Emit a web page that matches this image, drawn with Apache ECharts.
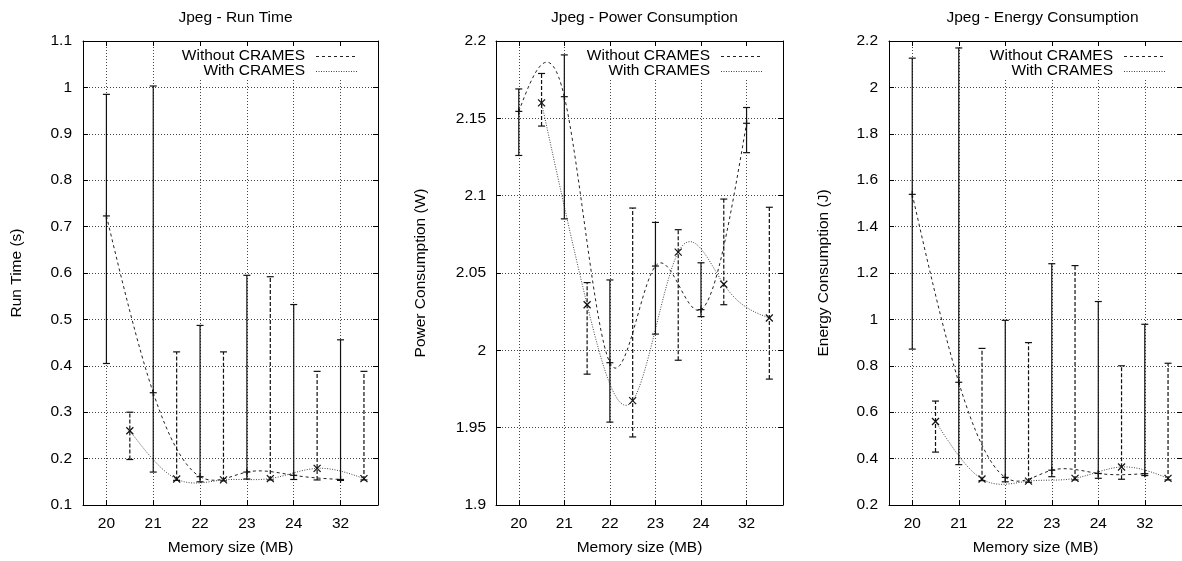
<!DOCTYPE html>
<html><head><meta charset="utf-8">
<script src="https://cdn.jsdelivr.net/npm/echarts@6/dist/echarts.min.js"></script>
<style>html,body{margin:0;padding:0;background:#fff}#c{width:1182px;height:561px}</style>
</head><body><div id="c"></div>
<script>
// ---- data ----
const xLabels = ['20', '21', '22', '23', '24', '32'];
const xWithout = [0, 1, 2, 3, 4, 5];
const xWith = [0.5, 1.5, 2.5, 3.5, 4.5, 5.5];
const xTickValues = [0, 1, 2, 3, 4, 5];

const runWithoutMean = [0.723, 0.342, 0.161, 0.171, 0.164, 0.155];
const runWithoutLow  = [0.405, 0.171, 0.150, 0.156, 0.155, 0.153];
const runWithoutHigh = [0.985, 1.003, 0.487, 0.595, 0.532, 0.456];
const runWithMean = [0.260, 0.156, 0.154, 0.157, 0.179, 0.157];
const runWithLow  = [0.198, 0.153, 0.152, 0.154, 0.154, 0.154];
const runWithHigh = [0.300, 0.430, 0.430, 0.592, 0.388, 0.388];

const powerWithoutMean = [2.1545, 2.164, 1.992, 2.0545, 2.0263, 2.1468];
const powerWithoutLow  = [2.126, 2.085, 1.9536, 2.0105, 2.0218, 2.1278];
const powerWithoutHigh = [2.169, 2.191, 2.0455, 2.0827, 2.0566, 2.157];
const powerWithMean = [2.160, 2.0295, 1.9675, 2.0635, 2.0427, 2.0209];
const powerWithLow  = [2.145, 1.9846, 1.944, 1.9936, 2.0295, 1.9814];
const powerWithHigh = [2.179, 2.0438, 2.092, 2.078, 2.0978, 2.0925];

const energyWithoutMean = [1.539, 0.729, 0.319, 0.350, 0.336, 0.335];
const energyWithoutLow  = [0.872, 0.374, 0.300, 0.322, 0.315, 0.327];
const energyWithoutHigh = [2.126, 2.170, 0.996, 1.240, 1.077, 0.979];
const energyWithMean = [0.560, 0.312, 0.303, 0.315, 0.364, 0.315];
const energyWithLow  = [0.428, 0.305, 0.298, 0.308, 0.311, 0.308];
const energyWithHigh = [0.648, 0.875, 0.900, 1.232, 0.800, 0.811];

const titles = ['Jpeg - Run Time', 'Jpeg - Power Consumption', 'Jpeg - Energy Consumption'];
const yNames = ['Run Time (s)', 'Power Consumption (W)', 'Energy Consumption (J)'];
const xName = 'Memory size (MB)';
const legendNames = ['Without CRAMES', 'With CRAMES'];

// ---- layout ----
const FONT = 'Liberation Sans, Arial, sans-serif';
const FS = 15.5;
const panels = [
  {left: 83, width: 295, min: 0.1, max: 1.1, interval: 0.1, nameGap: 58, labelMargin: 11,
   wo: [runWithoutMean, runWithoutLow, runWithoutHigh], w: [runWithMean, runWithLow, runWithHigh]},
  {left: 496, width: 287, min: 1.9, max: 2.2, interval: 0.05, nameGap: 67, labelMargin: 10,
   wo: [powerWithoutMean, powerWithoutLow, powerWithoutHigh], w: [powerWithMean, powerWithLow, powerWithHigh]},
  {left: 889, width: 297, min: 0.2, max: 2.2, interval: 0.2, nameGap: 57, labelMargin: 11,
   wo: [energyWithoutMean, energyWithoutLow, energyWithoutHigh], w: [energyWithMean, energyWithLow, energyWithHigh]}
];
const GTOP = 41, GH = 469;

// natural cubic spline -> bezier segments (data space)
function splineSegments(xs, ys) {
  const n = xs.length, h = [], M = new Array(n).fill(0);
  for (let i = 0; i < n - 1; i++) h.push(xs[i + 1] - xs[i]);
  const a = [], b = [], c = [], d = [];
  for (let i = 1; i < n - 1; i++) {
    a.push(h[i - 1]); b.push(2 * (h[i - 1] + h[i])); c.push(h[i]);
    d.push(6 * ((ys[i + 1] - ys[i]) / h[i] - (ys[i] - ys[i - 1]) / h[i - 1]));
  }
  const m = b.length;
  for (let i = 1; i < m; i++) {
    const w = a[i] / b[i - 1];
    b[i] -= w * c[i - 1]; d[i] -= w * d[i - 1];
  }
  const sol = new Array(m);
  for (let i = m - 1; i >= 0; i--) sol[i] = (d[i] - (i < m - 1 ? c[i] * sol[i + 1] : 0)) / b[i];
  for (let i = 0; i < m; i++) M[i + 1] = sol[i];
  const segs = [];
  for (let i = 0; i < n - 1; i++) {
    const hh = h[i], s = (ys[i + 1] - ys[i]) / hh;
    const dL = s - hh * (2 * M[i] + M[i + 1]) / 6;
    const dR = s + hh * (M[i] + 2 * M[i + 1]) / 6;
    segs.push([[xs[i], ys[i]], [xs[i] + hh / 3, ys[i] + dL * hh / 3],
               [xs[i + 1] - hh / 3, ys[i + 1] - dR * hh / 3], [xs[i + 1], ys[i + 1]]]);
  }
  return segs;
}

function errSeries(gi, xs, arr, dashed, marker, name) {
  const [mean, low, high] = arr;
  return {
    type: 'custom', name, xAxisIndex: gi * 2, yAxisIndex: gi * 2, z: 4, silent: true,
    data: xs.map((x, i) => [x, low[i], high[i], mean[i]]),
    renderItem(params, api) {
      const x = api.value(0);
      const pl = api.coord([x, api.value(1)]);
      const ph = api.coord([x, api.value(2)]);
      const pm = api.coord([x, api.value(3)]);
      const cw = 3.5, ms = 3.5;
      const st = {stroke: '#111', lineWidth: 1.2, fill: null};
      const ch = [
        {type: 'line', shape: {x1: pl[0], y1: pl[1], x2: ph[0], y2: ph[1]},
         style: Object.assign({}, st, {lineDash: dashed ? [4, 2] : null})},
        {type: 'line', shape: {x1: pl[0] - cw, y1: pl[1], x2: pl[0] + cw, y2: pl[1]}, style: st},
        {type: 'line', shape: {x1: ph[0] - cw, y1: ph[1], x2: ph[0] + cw, y2: ph[1]}, style: st}
      ];
      if (marker === '+') {
        ch.push({type: 'line', shape: {x1: pm[0] - ms, y1: pm[1], x2: pm[0] + ms, y2: pm[1]}, style: st});
        ch.push({type: 'line', shape: {x1: pm[0], y1: pm[1] - ms, x2: pm[0], y2: pm[1] + ms}, style: st});
      } else {
        ch.push({type: 'line', shape: {x1: pm[0] - ms, y1: pm[1] - ms, x2: pm[0] + ms, y2: pm[1] + ms}, style: st});
        ch.push({type: 'line', shape: {x1: pm[0] - ms, y1: pm[1] + ms, x2: pm[0] + ms, y2: pm[1] - ms}, style: st});
      }
      return {type: 'group', children: ch};
    }
  };
}

function curveSeries(gi, xs, ys, dash, color, name) {
  return {
    type: 'custom', name, xAxisIndex: gi * 2, yAxisIndex: gi * 2, z: 3, silent: true,
    data: [[xs[0], ys[0]]],
    renderItem(params, api) {
      const segs = splineSegments(xs, ys);
      return {type: 'group', children: segs.map(s => {
        const p0 = api.coord(s[0]), p1 = api.coord(s[1]), p2 = api.coord(s[2]), p3 = api.coord(s[3]);
        return {type: 'bezierCurve',
          shape: {x1: p0[0], y1: p0[1], cpx1: p1[0], cpy1: p1[1], cpx2: p2[0], cpy2: p2[1], x2: p3[0], y2: p3[1]},
          style: {stroke: color, lineWidth: 1, lineDash: dash, fill: null}};
      })};
    }
  };
}

const grid = [], xAxis = [], yAxis = [], series = [], title = [], graphic = [];
const axisLineStyle = {color: '#000', width: 1};
const splitStyle = {color: '#444', width: 1, type: [1, 2]};
const yFmt = v => String(+v.toFixed(2));

panels.forEach((p, gi) => {
  grid.push({left: p.left, top: GTOP, width: p.width, height: GH});
  title.push({text: titles[gi], left: p.left + p.width / 2, top: 5, textAlign: 'center',
    textStyle: {fontFamily: FONT, fontSize: FS, fontWeight: 'normal', color: '#000'}});
  xAxis.push({
    type: 'value', gridIndex: gi, min: -0.5, max: 5.8, position: 'bottom', z: 0,
    name: xName, nameLocation: 'middle', nameGap: 35,
    nameTextStyle: {fontFamily: FONT, fontSize: FS, color: '#000'},
    axisLine: {show: true, lineStyle: axisLineStyle},
    axisTick: {show: true, inside: true, length: 5, customValues: xTickValues, lineStyle: axisLineStyle},
    axisLabel: {show: true, margin: 11, customValues: xTickValues, formatter: v => xLabels[Math.round(v)],
      fontFamily: FONT, fontSize: FS, color: '#000'},
    splitLine: {show: true, lineStyle: splitStyle}
  });
  xAxis.push({
    type: 'value', gridIndex: gi, min: -0.5, max: 5.8, position: 'top', z: 5,
    axisLine: {show: true, onZero: false, lineStyle: axisLineStyle},
    axisTick: {show: true, inside: true, length: 5, customValues: xTickValues, lineStyle: axisLineStyle},
    axisLabel: {show: false}, splitLine: {show: false}
  });
  yAxis.push({
    type: 'value', gridIndex: gi, min: p.min, max: p.max, interval: p.interval, position: 'left', z: 0,
    name: yNames[gi], nameLocation: 'middle', nameGap: p.nameGap,
    nameTextStyle: {fontFamily: FONT, fontSize: FS, color: '#000'},
    axisLine: {show: true, onZero: false, lineStyle: axisLineStyle},
    axisTick: {show: true, inside: true, length: 5, lineStyle: axisLineStyle},
    axisLabel: {show: true, margin: p.labelMargin, formatter: yFmt, fontFamily: FONT, fontSize: FS, color: '#000'},
    splitLine: {show: true, lineStyle: splitStyle}
  });
  yAxis.push({
    type: 'value', gridIndex: gi, min: p.min, max: p.max, interval: p.interval, position: 'right', z: 5,
    axisLine: {show: true, onZero: false, lineStyle: axisLineStyle},
    axisTick: {show: true, inside: true, length: 5, lineStyle: axisLineStyle},
    axisLabel: {show: false}, splitLine: {show: false}
  });

  series.push(curveSeries(gi, xWithout, p.wo[0], [3, 3], '#222', legendNames[0]));
  series.push(curveSeries(gi, xWith, p.w[0], [1, 1.5], '#444', legendNames[1]));
  series.push(errSeries(gi, xWithout, p.wo, false, '+', legendNames[0]));
  series.push(errSeries(gi, xWith, p.w, true, 'x', legendNames[1]));

  // legend (gnuplot style key, opaque)
  const R = p.left + p.width;
  graphic.push({type: 'rect', z: 2, shape: {x: R - 202, y: GTOP + 1, width: 196, height: 37},
    style: {fill: '#fff'}});
  graphic.push({type: 'text', z: 6, x: R - 73, y: 56,
    style: {text: legendNames[0], align: 'right', verticalAlign: 'middle', font: FS + 'px ' + FONT, fill: '#000'}});
  graphic.push({type: 'text', z: 6, x: R - 73, y: 71,
    style: {text: legendNames[1], align: 'right', verticalAlign: 'middle', font: FS + 'px ' + FONT, fill: '#000'}});
  graphic.push({type: 'line', z: 6, shape: {x1: R - 62, y1: 56.5, x2: R - 20, y2: 56.5},
    style: {stroke: '#222', lineWidth: 1, lineDash: [3, 3]}});
  graphic.push({type: 'line', z: 6, shape: {x1: R - 62, y1: 71.5, x2: R - 20, y2: 71.5},
    style: {stroke: '#444', lineWidth: 1, lineDash: [1, 1.5]}});
});

const chart = echarts.init(document.getElementById('c'), null, {renderer: 'canvas'});
chart.setOption({
  animation: false, backgroundColor: '#fff',
  title, grid, xAxis, yAxis, series, graphic
});
</script>
</body></html>
